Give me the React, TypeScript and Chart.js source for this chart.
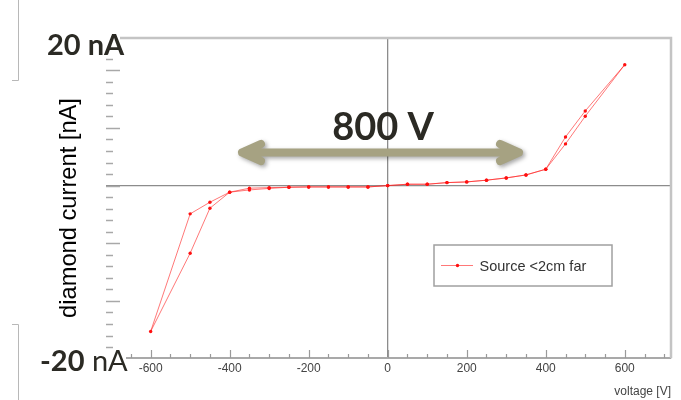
import React, { useEffect, useRef } from "react";
import { Chart, registerables } from "chart.js";

Chart.register(...registerables);

// ---- data ----
const seriesLabel = "Source <2cm far";
// measurement sequence: 0 -> +600 -> 0 -> -600 -> 0 (V)
const voltage = [
  0, 50, 100, 150, 200, 250, 300, 350, 400, 450, 500, 600,
  500, 450, 400, 350, 300, 250, 200, 150, 100, 50, 0,
  -50, -100, -150, -200, -250, -300, -350, -400, -450, -500, -600,
  -500, -450, -400, -350, -300, -250, -200, -150, -100, -50, 0,
];
const current = [
  0, 0.24, 0.24, 0.52, 0.64, 0.94, 1.33, 1.85, 2.84, 8.44, 12.95, 20.97,
  12.03, 7.23, 2.84, 1.85, 1.33, 0.94, 0.64, 0.52, 0.24, 0.24, 0,
  -0.23, -0.23, -0.23, -0.23, -0.28, -0.35, -0.45, -1.14, -2.88, -4.9, -25.3,
  -11.72, -3.92, -1.14, -0.75, -0.49, -0.28, -0.23, -0.23, -0.23, -0.23, 0,
];
const xTickValues = [-600, -400, -200, 0, 200, 400, 600];
const xMin = -713;
const xMax = 717;
const yMin = -29.9;
const yMax = 25.6;
const xMajorStep = 200;
const xMinorStep = 50;
const yMajorStep = 10;
const yMinorStep = 2;

const xTitle = "voltage [V]";
const yTitle = "diamond current [nA]";
const topLabel = "20 nA";
const bottomLabelNum = "-20";
const bottomLabelUnit = " nA";
const arrowLabel = "800 V";

const SANS = "'Liberation Sans', Arial, sans-serif";
const BOLD = "Lato, 'Open Sans', sans-serif";

const overlayPlugin = {
  id: "overlay",
  afterDraw(chart: any) {
    const ctx = chart.ctx as CanvasRenderingContext2D;
    const area = chart.chartArea;
    const xs = chart.scales.x;
    const ys = chart.scales.y;
    ctx.save();

    // frame: top + right
    ctx.strokeStyle = "#c4c4c4";
    ctx.lineWidth = 2.5;
    ctx.beginPath();
    ctx.moveTo(area.left, area.top);
    ctx.lineTo(area.right, area.top);
    ctx.lineTo(area.right, area.bottom);
    ctx.stroke();

    // x ticks (inside, upward)
    ctx.strokeStyle = "#9a9a9a";
    ctx.lineWidth = 1.2;
    const xStart = Math.ceil(xMin / xMinorStep) * xMinorStep;
    for (let v = xStart; v <= xMax; v += xMinorStep) {
      const px = Math.round(xs.getPixelForValue(v)) + 0.5;
      const len = v % xMajorStep === 0 ? 8 : 4;
      ctx.beginPath();
      ctx.moveTo(px, area.bottom);
      ctx.lineTo(px, area.bottom - len);
      ctx.stroke();
    }

    // y ticks (left)
    ctx.strokeStyle = "#a8a8a8";
    ctx.lineWidth = 1.5;
    const yStart = Math.ceil(yMin / yMinorStep) * yMinorStep;
    for (let v = yStart; v <= yMax; v += yMinorStep) {
      const py = Math.round(ys.getPixelForValue(v)) + 0.5;
      const len = v % yMajorStep === 0 ? 14 : 7;
      ctx.beginPath();
      ctx.moveTo(area.left, py);
      ctx.lineTo(area.left + len, py);
      ctx.stroke();
    }

    // y title
    ctx.save();
    ctx.translate(76, (area.top + area.bottom) / 2 + 10);
    ctx.rotate(-Math.PI / 2);
    ctx.fillStyle = "#000";
    ctx.font = `23.7px ${SANS}`;
    ctx.textAlign = "center";
    ctx.textBaseline = "alphabetic";
    ctx.fillText(yTitle, 0, 0);
    ctx.restore();

    // legend
    const lx = 434, ly = 245, lw = 178, lh = 41;
    ctx.fillStyle = "#fff";
    ctx.fillRect(lx, ly, lw, lh);
    ctx.strokeStyle = "#a0a0a0";
    ctx.lineWidth = 1.5;
    ctx.strokeRect(lx, ly, lw, lh);
    const ds = chart.data.datasets[0];
    ctx.strokeStyle = ds.borderColor;
    ctx.lineWidth = 1;
    ctx.beginPath();
    ctx.moveTo(441, 265.5);
    ctx.lineTo(473, 265.5);
    ctx.stroke();
    ctx.fillStyle = ds.pointBackgroundColor;
    ctx.beginPath();
    ctx.arc(457.5, 265.5, 1.7, 0, Math.PI * 2);
    ctx.fill();
    ctx.fillStyle = "#333";
    ctx.font = `14.5px ${SANS}`;
    ctx.textAlign = "left";
    ctx.textBaseline = "alphabetic";
    ctx.fillText(ds.label, 479.5, 270.5);

    // slide decorations at left
    ctx.strokeStyle = "#b8b8b8";
    ctx.lineWidth = 1;
    ctx.beginPath();
    ctx.moveTo(18.5, 0);
    ctx.lineTo(18.5, 80.5);
    ctx.lineTo(12, 80.5);
    ctx.moveTo(18.5, 400);
    ctx.lineTo(18.5, 324.5);
    ctx.lineTo(12, 324.5);
    ctx.stroke();

    // white boxes behind the big nA labels
    ctx.fillStyle = "#fff";
    ctx.fillRect(40, 26, 80, 29);
    ctx.fillRect(38, 350, 88, 26);

    // big labels
    ctx.fillStyle = "#2b2a24";
    ctx.textAlign = "left";
    ctx.textBaseline = "alphabetic";
    ctx.font = `700 29px ${BOLD}`;
    ctx.fillText(topLabel, 47, 54.5);
    ctx.fillText(bottomLabelNum, 40, 371);
    const w = ctx.measureText(bottomLabelNum).width;
    ctx.font = `400 29px ${BOLD}`;
    ctx.fillText(bottomLabelUnit, 40 + w, 371);

    // double arrow
    ctx.save();
    ctx.shadowColor = "rgba(0,0,0,0.35)";
    ctx.shadowBlur = 4;
    ctx.shadowOffsetX = 2;
    ctx.shadowOffsetY = 2;
    ctx.strokeStyle = "#a6a282";
    ctx.lineWidth = 8;
    ctx.lineCap = "round";
    ctx.lineJoin = "round";
    const ay = 152.5;
    const aL = 242, aR = 519;
    ctx.beginPath();
    ctx.moveTo(aL, ay);
    ctx.lineTo(aR, ay);
    ctx.moveTo(aL + 19, ay - 8.5);
    ctx.lineTo(aL, ay);
    ctx.lineTo(aL + 19, ay + 8.5);
    ctx.moveTo(aR - 19, ay - 8.5);
    ctx.lineTo(aR, ay);
    ctx.lineTo(aR - 19, ay + 8.5);
    ctx.stroke();
    ctx.restore();

    ctx.fillStyle = "#2b2a24";
    ctx.font = `700 38px ${BOLD}`;
    ctx.textAlign = "center";
    ctx.fillText(arrowLabel, 383, 140);

    ctx.restore();
  },
};

export default function App() {
  const ref = useRef<HTMLCanvasElement | null>(null);

  useEffect(() => {
    if (!ref.current) return;
    const points = voltage.map((v, i) => ({ x: v, y: current[i] }));
    const chart = new Chart(ref.current, {
      type: "scatter",
      data: {
        datasets: [
          {
            label: seriesLabel,
            data: points,
            showLine: true,
            borderColor: "rgba(255,30,30,0.6)",
            borderWidth: 1,
            pointRadius: 1.7,
            pointBorderWidth: 0,
            pointBackgroundColor: "#ff1010",
            tension: 0,
          } as any,
        ],
      },
      options: {
        responsive: false,
        animation: false,
        events: [],
        layout: { padding: { left: 0, top: 38, right: 10, bottom: 0 } },
        plugins: { legend: { display: false }, tooltip: { enabled: false } },
        scales: {
          x: {
            type: "linear",
            min: xMin,
            max: xMax,
            afterBuildTicks: (s: any) => {
              s.ticks = xTickValues.map((v) => ({ value: v }));
            },
            afterFit: (s: any) => {
              s.height = 42;
            },
            grid: {
              drawTicks: false,
              color: (c: any) => (c.tick && c.tick.value === 0 ? "#8c8c8c" : "rgba(0,0,0,0)"),
              lineWidth: 1.3,
            },
            border: { display: true, color: "#a9a9a9", width: 2 },
            ticks: {
              padding: 3,
              color: "#444",
              font: { family: SANS, size: 12 },
              callback: (v: any) => String(v),
            },
            title: {
              display: true,
              text: xTitle,
              align: "end",
              color: "#444",
              font: { family: SANS, size: 12 },
              padding: { top: 0, bottom: 1 },
            },
          },
          y: {
            type: "linear",
            min: yMin,
            max: yMax,
            afterBuildTicks: (s: any) => {
              s.ticks = [{ value: 0 }];
            },
            afterFit: (s: any) => {
              s.width = 106;
            },
            grid: {
              drawTicks: false,
              color: (c: any) => (c.tick && c.tick.value === 0 ? "#8c8c8c" : "rgba(0,0,0,0)"),
              lineWidth: 1.3,
            },
            border: { display: false },
            ticks: { display: false },
          },
        },
      } as any,
      plugins: [overlayPlugin],
    });
    return () => chart.destroy();
  }, []);

  return (
    <div style={{ position: "absolute", left: 0, top: 0, width: 681, height: 400, background: "#fff" }}>
      <canvas ref={ref} width={681} height={400} style={{ display: "block", width: 681, height: 400 }} />
    </div>
  );
}
